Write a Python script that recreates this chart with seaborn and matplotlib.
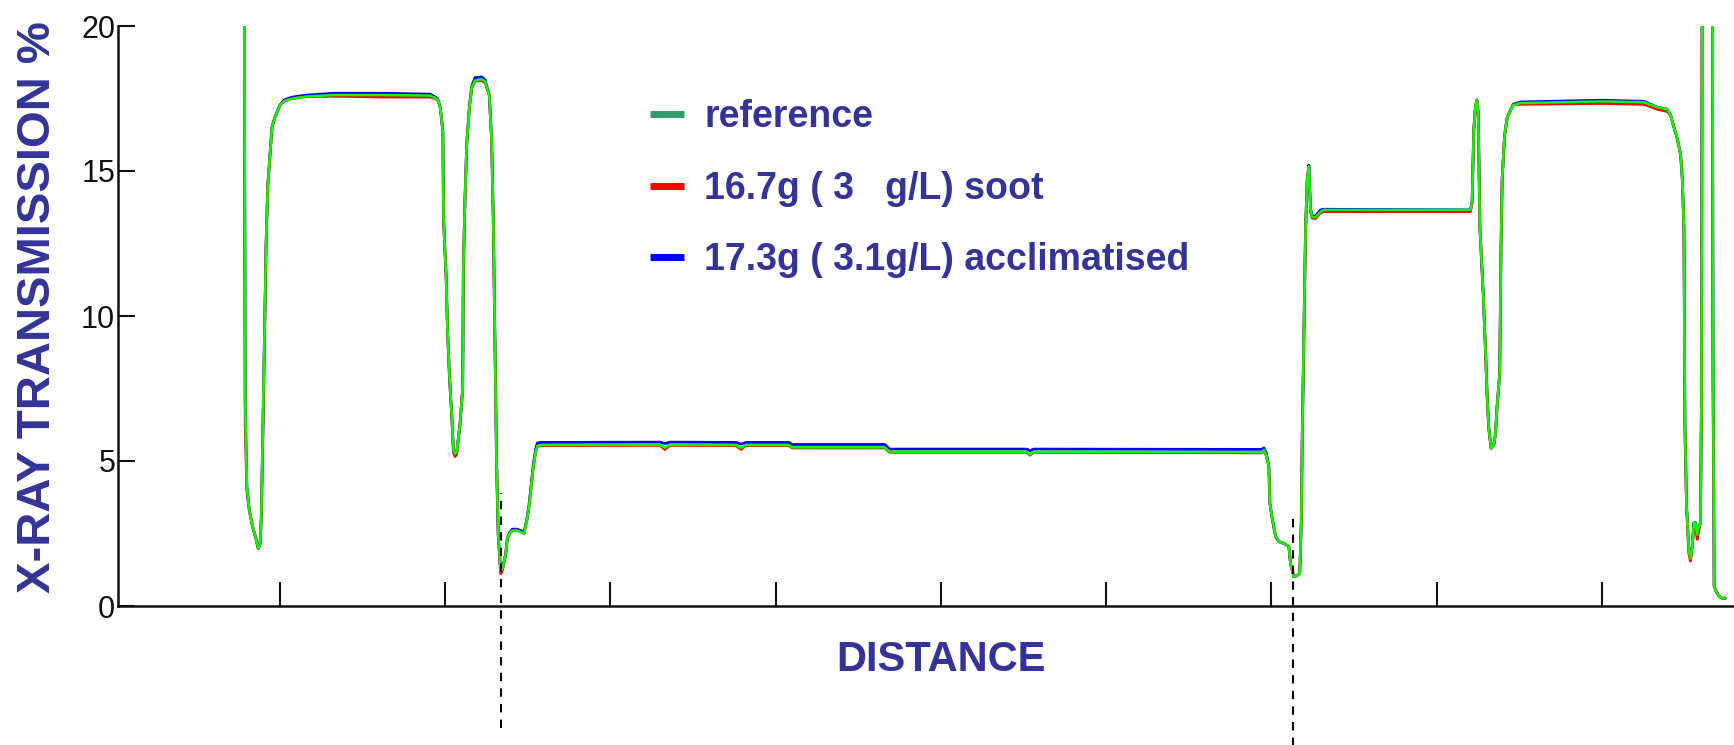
import matplotlib
matplotlib.use("Agg")
import matplotlib.pyplot as plt
from matplotlib.lines import Line2D
import seaborn as sns
import pandas as pd

# ---- data -------------------------------------------------------------
distance = [
    0.785, 0.787, 0.790, 0.800, 0.815, 0.835, 0.855, 0.869, 0.880, 0.887,
    0.896, 0.906, 0.916, 0.926, 0.940, 0.952, 0.970, 1.000, 1.026, 1.076,
    1.167, 1.327, 1.629, 1.910, 1.954, 1.970, 1.986, 1.990, 2.006, 2.014,
    2.026, 2.040, 2.050, 2.060, 2.070, 2.090, 2.106, 2.110, 2.120, 2.131,
    2.147, 2.161, 2.181, 2.221, 2.241, 2.267, 2.281, 2.291, 2.301, 2.311,
    2.321, 2.336, 2.347, 2.366, 2.376, 2.390, 2.407, 2.437, 2.477, 2.493,
    2.507, 2.521, 2.534, 2.548, 2.558, 2.578, 3.300, 3.330, 3.360, 3.760,
    3.790, 3.820, 4.080, 4.100, 4.660, 4.690, 5.520, 5.540, 5.560, 6.940,
    6.955, 6.968, 6.985, 6.991, 7.005, 7.026, 7.046, 7.076, 7.106, 7.116,
    7.126, 7.136, 7.156, 7.172, 7.181, 7.187, 7.197, 7.207, 7.217, 7.227,
    7.233, 7.237, 7.247, 7.267, 7.298, 7.318, 8.205, 8.215, 8.225, 8.235,
    8.244, 8.252, 8.262, 8.282, 8.296, 8.306, 8.316, 8.330, 8.346, 8.356,
    8.366, 8.382, 8.390, 8.397, 8.412, 8.428, 8.444, 8.464, 8.508, 9.000,
    9.255, 9.336, 9.396, 9.416, 9.436, 9.457, 9.477, 9.487, 9.497, 9.503,
    9.513, 9.527, 9.537, 9.547, 9.557, 9.567, 9.577, 9.587, 9.597, 9.603,
    9.607, 9.670, 9.672, 9.676, 9.680, 9.688, 9.708, 9.728, 9.748,
]

reference = [
    21.0, 14.7, 7.0, 4.1, 3.28, 2.73, 2.32, 1.98, 2.15, 3.0,
    5.87, 9.15, 12.42, 14.47, 15.56, 16.52, 16.86, 17.27, 17.41, 17.50,
    17.57, 17.62, 17.62, 17.60, 17.47, 17.20, 16.38, 13.38, 11.33, 9.56,
    7.92, 6.55, 5.39, 5.25, 5.32, 6.28, 7.51, 11.60, 14.06, 15.97,
    17.20, 17.88, 18.12, 18.16, 18.09, 17.61, 16.11, 13.38, 9.15, 4.98,
    2.46, 1.20, 1.30, 1.77, 2.32, 2.50, 2.60, 2.60, 2.50, 2.90,
    3.40, 4.11, 4.80, 5.32, 5.52, 5.55, 5.56, 5.46, 5.56, 5.55,
    5.45, 5.55, 5.55, 5.47, 5.47, 5.32, 5.32, 5.22, 5.32, 5.30,
    5.38, 5.22, 4.80, 3.54, 3.02, 2.39, 2.22, 2.16, 2.05, 1.47,
    1.24, 1.01, 1.05, 1.13, 2.85, 5.84, 9.52, 12.97, 14.69, 15.15,
    14.20, 13.66, 13.42, 13.40, 13.60, 13.66, 13.66, 13.94, 16.41, 17.20,
    17.45, 17.00, 13.08, 10.80, 8.83, 7.22, 6.13, 5.44, 5.55, 5.90,
    6.87, 8.02, 12.39, 14.74, 16.25, 16.86, 17.06, 17.27, 17.34, 17.40,
    17.37, 17.20, 17.13, 16.93, 16.52, 16.11, 15.56, 14.74, 13.04, 6.21,
    3.41, 1.91, 1.64, 2.05, 2.87, 2.87, 2.46, 2.73, 2.87, 7.00,
    21.0, 21.0, 12.0, 5.0, 0.68, 0.55, 0.34, 0.27, 0.27,
]

soot = [
    21.0, 12.3, 6.2, 4.0, 3.28, 2.73, 2.32, 1.98, 2.15, 3.0,
    5.60, 9.00, 12.42, 14.47, 15.56, 16.52, 16.86, 17.27, 17.41, 17.50,
    17.57, 17.58, 17.55, 17.55, 17.47, 17.20, 16.38, 13.38, 11.33, 9.56,
    7.92, 6.55, 5.30, 5.15, 5.25, 6.28, 7.51, 11.60, 14.06, 15.97,
    17.20, 17.85, 18.10, 18.12, 18.05, 17.61, 16.11, 13.38, 9.15, 4.98,
    2.46, 1.12, 1.25, 1.77, 2.32, 2.50, 2.60, 2.60, 2.50, 2.90,
    3.40, 4.11, 4.80, 5.30, 5.50, 5.53, 5.54, 5.40, 5.54, 5.53,
    5.40, 5.53, 5.53, 5.45, 5.45, 5.30, 5.30, 5.20, 5.30, 5.28,
    5.36, 5.20, 4.80, 3.54, 3.02, 2.39, 2.22, 2.16, 2.05, 1.47,
    1.24, 1.01, 1.05, 1.13, 2.85, 5.84, 9.52, 12.97, 14.69, 15.15,
    14.20, 13.60, 13.38, 13.36, 13.56, 13.60, 13.60, 13.90, 16.41, 17.20,
    17.45, 17.00, 13.08, 10.80, 8.83, 7.22, 6.13, 5.44, 5.55, 5.90,
    6.87, 8.02, 12.39, 14.74, 16.25, 16.86, 17.06, 17.27, 17.30, 17.33,
    17.30, 17.13, 17.05, 16.93, 16.52, 16.11, 15.56, 14.74, 13.04, 6.21,
    3.41, 1.80, 1.55, 2.05, 2.80, 2.80, 2.30, 2.60, 2.87, 7.00,
    21.0, 21.0, 7.7, 5.0, 0.68, 0.55, 0.34, 0.27, 0.27,
]

acclimatised = [
    21.0, 14.7, 7.0, 4.1, 3.28, 2.73, 2.32, 1.98, 2.15, 3.0,
    5.87, 9.15, 12.42, 14.47, 15.56, 16.52, 16.86, 17.27, 17.45, 17.55,
    17.62, 17.68, 17.68, 17.65, 17.50, 17.20, 16.38, 13.38, 11.33, 9.56,
    7.92, 6.55, 5.39, 5.25, 5.32, 6.28, 7.51, 11.60, 14.06, 15.97,
    17.25, 17.92, 18.22, 18.24, 18.15, 17.61, 16.11, 13.38, 9.15, 4.98,
    2.46, 1.20, 1.30, 1.77, 2.32, 2.52, 2.65, 2.65, 2.55, 2.95,
    3.45, 4.20, 4.90, 5.42, 5.62, 5.64, 5.65, 5.60, 5.65, 5.64,
    5.58, 5.64, 5.64, 5.57, 5.57, 5.41, 5.41, 5.35, 5.41, 5.40,
    5.45, 5.30, 4.85, 3.54, 3.02, 2.39, 2.22, 2.16, 2.05, 1.47,
    1.24, 1.01, 1.05, 1.13, 2.85, 5.84, 9.52, 12.97, 14.69, 15.20,
    14.30, 13.70, 13.45, 13.44, 13.66, 13.68, 13.66, 13.94, 16.41, 17.20,
    17.45, 17.00, 13.08, 10.80, 8.83, 7.22, 6.13, 5.44, 5.55, 5.90,
    6.87, 8.02, 12.39, 14.74, 16.25, 16.86, 17.06, 17.30, 17.38, 17.44,
    17.40, 17.20, 17.13, 16.93, 16.52, 16.11, 15.56, 14.74, 13.04, 6.21,
    3.41, 1.91, 1.64, 2.05, 2.87, 2.87, 2.46, 2.73, 2.87, 7.00,
    21.0, 21.0, 12.0, 5.0, 0.68, 0.55, 0.34, 0.27, 0.27,
]

series_labels = ["reference", "16.7g ( 3   g/L) soot", "17.3g ( 3.1g/L) acclimatised"]
y_ticks = [0, 5, 10, 15, 20]
x_ticks = [1, 2, 3, 4, 5, 6, 7, 8, 9]
# boundaries marked with dashed guides: (distance, lower end, upper end)
guide_x = [2.340, 7.130]
guide_lo = [-4.2, -5.2]
guide_hi = [3.9, 3.1]

# ---- style ------------------------------------------------------------
sns.set_theme(style="white")
plt.rcParams["font.family"] = ["Liberation Sans", "DejaVu Sans"]
label_color = "#333399"

fig = plt.figure(figsize=(17.34, 7.45), dpi=100)
fig.patch.set_facecolor("white")
ax = fig.add_axes([118 / 1734, 139 / 745, 1616 / 1734, 580 / 745])
ax.set_facecolor("white")

df = pd.DataFrame({"distance": distance, "reference": reference,
                   "soot": soot, "acclimatised": acclimatised})

# underneath: the two test runs; on top: the reference trace
sns.lineplot(data=df, x="distance", y="acclimatised", ax=ax, color="#0000ff",
             lw=2.0, estimator=None, sort=False, zorder=2)
sns.lineplot(data=df, x="distance", y="soot", ax=ax, color="#ff0000",
             lw=2.0, estimator=None, sort=False, zorder=3)
sns.lineplot(data=df, x="distance", y="reference", ax=ax, color="#00ff00",
             lw=1.8, estimator=None, sort=False, zorder=4)

ax.vlines(guide_x, guide_lo, guide_hi, colors="black", linestyles=(0, (4, 3.5)),
          lw=1.5, clip_on=False, zorder=5)

ax.set_xlim(0.02, 9.80)
ax.set_ylim(0, 20)
ax.set_xticks(x_ticks)
ax.set_yticks(y_ticks)
ax.set_xticklabels([])
ax.set_yticklabels([str(v) for v in y_ticks],
                   family=["Liberation Sans Narrow", "Liberation Sans"],
                   fontsize=22, color="#111111")
ax.tick_params(axis="x", direction="in", length=17.5, width=1.5, color="#111111",
               bottom=True)
ax.tick_params(axis="y", direction="in", length=12, width=1.5, color="#111111",
               left=True, pad=2)

for side in ("top", "right"):
    ax.spines[side].set_visible(False)
for side in ("left", "bottom"):
    ax.spines[side].set_color("#111111")
    ax.spines[side].set_linewidth(1.8)

ax.set_xlabel("DISTANCE", fontsize=30, fontweight="bold", color=label_color)
ax.xaxis.set_label_coords(0.509, -0.059)
ax.set_ylabel("X-RAY TRANSMISSION %", fontsize=34, fontweight="bold",
              color=label_color)
ax.yaxis.set_label_coords(-0.036, 0.516)

handles = [Line2D([], [], color=c, lw=5, solid_capstyle="butt")
           for c in ("#339966", "#ff0000", "#0000ff")]
ax.legend(handles, series_labels, loc="upper left",
          bbox_to_anchor=(650 / 1734, 1 - 99 / 745),
          bbox_transform=fig.transFigure, frameon=False,
          prop={"family": "Liberation Sans", "weight": "bold", "size": 27},
          labelcolor=label_color, handlelength=0.9, handletextpad=0.55,
          labelspacing=0.95, borderpad=0, borderaxespad=0)

fig.savefig("out.png", dpi=100, facecolor="white")
